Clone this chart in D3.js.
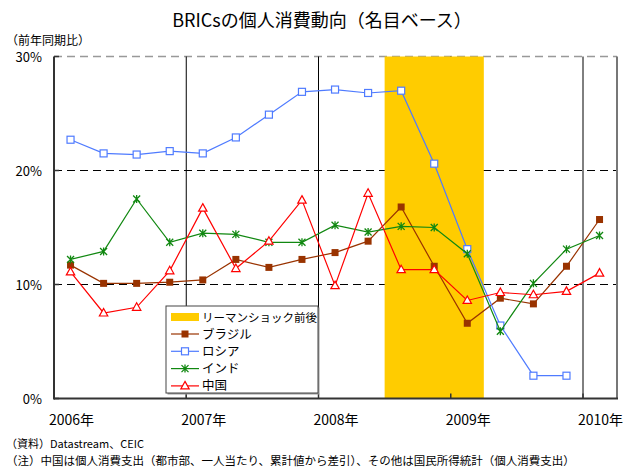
<!DOCTYPE html>
<html>
<head>
<meta charset="utf-8">
<script src="https://cdn.jsdelivr.net/npm/d3@7"></script>
<style>
  body { margin: 0; background: #fff; }
  svg { font-family: "Noto Sans CJK JP", "Noto Sans", sans-serif; }
</style>
</head>
<body>
<svg id="chart" width="626" height="468"></svg>
<script>
// quarters, 2006Q1 .. 2010Q1
var quarters = ["2006Q1","2006Q2","2006Q3","2006Q4","2007Q1","2007Q2","2007Q3","2007Q4",
  "2008Q1","2008Q2","2008Q3","2008Q4","2009Q1","2009Q2","2009Q3","2009Q4","2010Q1"]

// year-on-year growth (%)
var brazil = [11.7, 10.1, 10.1, 10.2, 10.4, 12.2, 11.5, 12.2, 12.8, 13.8, 16.8, 11.6, 6.6, 8.8, 8.3, 11.6, 15.7]
var russia = [22.7, 21.5, 21.4, 21.7, 21.5, 22.9, 24.9, 26.9, 27.1, 26.8, 27.0, 20.6, 13.1, 6.4, 2.0, 2.0, null]
var india  = [12.2, 12.9, 17.5, 13.7, 14.5, 14.4, 13.7, 13.7, 15.2, 14.6, 15.1, 15.0, 12.7, 5.9, 10.1, 13.1, 14.3]
var china  = [11.1, 7.5, 8.0, 11.2, 16.7, 11.4, 13.8, 17.4, 9.9, 18.0, 11.3, 11.3, 8.6, 9.3, 9.1, 9.4, 11.0]

var yearLabels = ["2006年", "2007年", "2008年", "2009年", "2010年"]
var yTicks = [0, 10, 20, 30]
var lehmanBand = ["2008Q3", "2009Q1"] // shaded period, first and last quarter

var svg = d3.select("#chart")

// quarter string -> fractional year at the middle of the quarter
function qTime(q) {
  return +q.slice(0, 4) + (+q.slice(5) - 1) / 4 + 0.125
}

var x = d3.scaleLinear().domain([2006, 2010.257]).range([54, 617])
var y = d3.scaleLinear().domain([0, 30]).range([398.5, 56.5])

// title & unit
svg.append("text").attr("x", 322).attr("y", 27).attr("text-anchor", "middle")
  .style("font-size", "18px").text("BRICsの個人消費動向（名目ベース）")
svg.append("text").attr("x", 6).attr("y", 45)
  .style("font-size", "12px").text("（前年同期比）")

var grid = svg.append("g")

// horizontal dashed grid
grid.selectAll("line.h").data(yTicks.filter(function(d) { return d > 0 }))
  .enter().append("line")
  .attr("x1", x(2006)).attr("x2", 617)
  .attr("y1", function(d) { return y(d) }).attr("y2", function(d) { return y(d) })
  .attr("stroke", function(d) { return d == 30 ? "#999" : "#000" })
  .attr("stroke-width", function(d) { return d == 30 ? 1.5 : 1 })
  .attr("stroke-dasharray", "8,5")

// vertical year lines
grid.selectAll("line.v").data([2007, 2008, 2009, 2010])
  .enter().append("line")
  .attr("x1", function(d) { return x(d) }).attr("x2", function(d) { return x(d) })
  .attr("y1", y(30)).attr("y2", y(0))
  .attr("stroke", "#000").attr("stroke-width", 1)

// the yellow band hides the 2009 line
svg.append("rect")
  .attr("x", x(qTime(lehmanBand[0]) - 0.125))
  .attr("width", x(qTime(lehmanBand[1]) + 0.125) - x(qTime(lehmanBand[0]) - 0.125))
  .attr("y", y(30)).attr("height", y(0) - y(30))
  .attr("fill", "#FFCC00")

// axes frame
svg.append("line").attr("x1", 617).attr("x2", 617).attr("y1", y(30)).attr("y2", y(0))
  .attr("stroke", "#777").attr("stroke-width", 2)
svg.append("line").attr("x1", x(2006)).attr("x2", x(2006)).attr("y1", y(30)).attr("y2", y(0) + 1)
  .attr("stroke", "#333").attr("stroke-width", 2)
svg.append("line").attr("x1", x(2006)).attr("x2", 618).attr("y1", y(0)).attr("y2", y(0))
  .attr("stroke", "#333").attr("stroke-width", 2)

// y ticks + labels
svg.selectAll("line.yt").data(yTicks).enter().append("line")
  .attr("x1", x(2006)).attr("x2", x(2006) + 5)
  .attr("y1", function(d) { return y(d) }).attr("y2", function(d) { return y(d) })
  .attr("stroke", "#333").attr("stroke-width", 1.5)
svg.selectAll("text.yl").data(yTicks).enter().append("text")
  .attr("x", 42).attr("y", function(d) { return y(d) + 5 })
  .attr("text-anchor", "end").style("font-size", "13px")
  .text(function(d) { return d + "%" })

// x ticks (upward) + year labels
svg.selectAll("line.xt").data([2007, 2008, 2009, 2010]).enter().append("line")
  .attr("x1", function(d) { return x(d) }).attr("x2", function(d) { return x(d) })
  .attr("y1", y(0)).attr("y2", y(0) - 5)
  .attr("stroke", "#333").attr("stroke-width", 1.5)
svg.selectAll("text.xl").data(yearLabels).enter().append("text")
  .attr("x", function(d, i) { return x(2006 + i + 0.125) + 1 })
  .attr("y", 425).attr("text-anchor", "middle").style("font-size", "14px")
  .text(function(d) { return d })

// marker shapes
function drawMarker(g, kind, color) {
  if (kind == "filled") {
    g.append("rect").attr("x", -3.5).attr("y", -3.5).attr("width", 7).attr("height", 7)
      .attr("fill", color)
  } else if (kind == "square") {
    g.append("rect").attr("x", -3.5).attr("y", -3.5).attr("width", 7).attr("height", 7)
      .attr("fill", "#fff").attr("stroke", color).attr("stroke-width", 1.2)
  } else if (kind == "star") {
    g.append("path").attr("d", "M-3.5,-3.5L3.5,3.5M-3.5,3.5L3.5,-3.5M0,-4L0,4")
      .attr("stroke", color).attr("stroke-width", 1.3)
  } else if (kind == "tri") {
    g.append("path").attr("d", "M0,-4.5L4.2,3L-4.2,3Z")
      .attr("fill", "#fff").attr("stroke", color).attr("stroke-width", 1.2)
  }
}

var seriesList = [
  { name: "ブラジル", values: brazil, color: "#993300", marker: "filled" },
  { name: "ロシア", values: russia, color: "#4F7BFF", marker: "square" },
  { name: "インド", values: india, color: "#118811", marker: "star" },
  { name: "中国", values: china, color: "#FF0000", marker: "tri" }
]

var line = d3.line()
  .defined(function(d) { return d.v != null })
  .x(function(d) { return x(qTime(d.q)) })
  .y(function(d) { return y(d.v) })

seriesList.forEach(function(s) {
  var pts = quarters.map(function(q, i) { return { q: q, v: s.values[i] } })
  svg.append("path").datum(pts).attr("d", line)
    .attr("fill", "none").attr("stroke", s.color).attr("stroke-width", 1.2)
  svg.selectAll(null).data(pts.filter(function(d) { return d.v != null }))
    .enter().append("g")
    .attr("transform", function(d) { return "translate(" + x(qTime(d.q)) + "," + y(d.v) + ")" })
    .each(function() { drawMarker(d3.select(this), s.marker, s.color) })
})

// legend
var lg = svg.append("g").attr("transform", "translate(166,306)")
lg.append("rect").attr("x", 1.5).attr("y", 1.5).attr("width", 152).attr("height", 87).attr("fill", "#999")
lg.append("rect").attr("width", 152).attr("height", 87).attr("fill", "#fff")
  .attr("stroke", "#444").attr("stroke-width", 1)
lg.append("rect").attr("x", 5).attr("y", 7).attr("width", 28).attr("height", 8).attr("fill", "#FFCC00")
lg.append("text").attr("x", 36).attr("y", 15.5).style("font-size", "11.5px").text("リーマンショック前後")
seriesList.forEach(function(s, i) {
  var row = lg.append("g").attr("transform", "translate(0," + (28 + i * 17.3) + ")")
  row.append("line").attr("x1", 5).attr("x2", 33).attr("stroke", s.color).attr("stroke-width", 1.2)
  drawMarker(row.append("g").attr("transform", "translate(19,0)"), s.marker, s.color)
  row.append("text").attr("x", 36).attr("y", 4.5).style("font-size", "12.5px").text(s.name)
})

// footnotes
svg.append("text").attr("x", 6).attr("y", 448).style("font-size", "11px")
  .text("（資料）Datastream、CEIC")
svg.append("text").attr("x", 6).attr("y", 465).style("font-size", "11.5px")
  .text("（注）中国は個人消費支出（都市部、一人当たり、累計値から差引）、その他は国民所得統計（個人消費支出）")
</script>
</body>
</html>
